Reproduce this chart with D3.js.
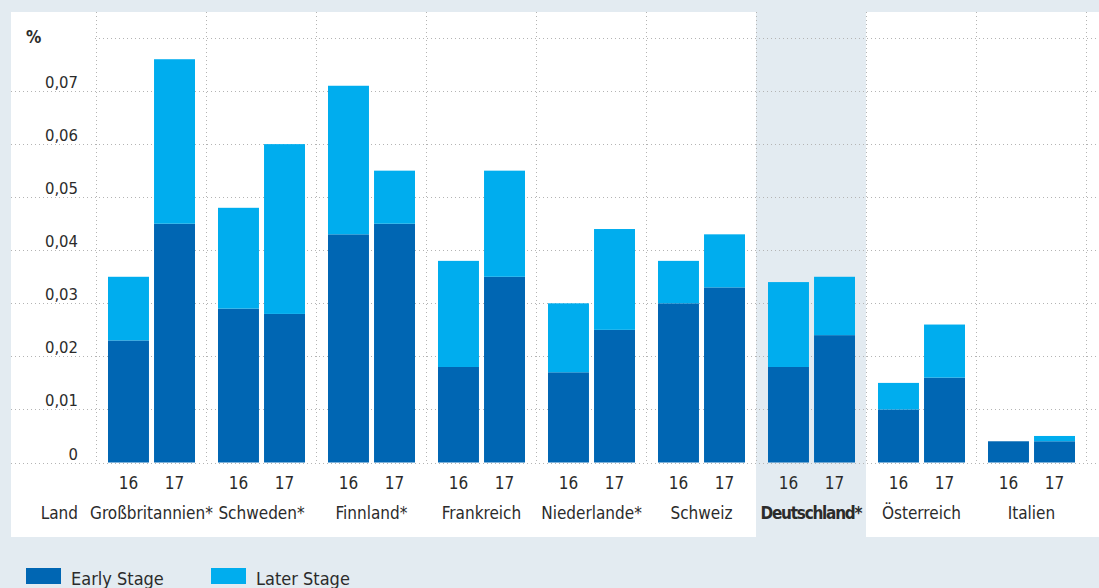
<!DOCTYPE html>
<html>
<head>
<meta charset="utf-8">
<script src="https://cdn.jsdelivr.net/npm/d3@7/dist/d3.min.js"></script>
<style>
  body { margin: 0; background: #e3ebf1; }
  svg text { font-family: "DejaVu Sans Condensed", "Liberation Sans Narrow", "Roboto", sans-serif; fill: #2b2b2b; }
</style>
</head>
<body>
<div id="chart"></div>
<script>
const countries = ['Großbritannien*', 'Schweden*', 'Finnland*', 'Frankreich', 'Niederlande*', 'Schweiz', 'Deutschland*', 'Österreich', 'Italien'];
const years = ['16', '17'];
const early16 = [0.023, 0.029, 0.043, 0.018, 0.017, 0.030, 0.018, 0.010, 0.004];
const later16 = [0.012, 0.019, 0.028, 0.020, 0.013, 0.008, 0.016, 0.005, 0.000];
const early17 = [0.045, 0.028, 0.045, 0.035, 0.025, 0.033, 0.024, 0.016, 0.004];
const later17 = [0.031, 0.032, 0.010, 0.020, 0.019, 0.010, 0.011, 0.010, 0.001];
const yTicks = [0, 0.01, 0.02, 0.03, 0.04, 0.05, 0.06, 0.07];
const highlight = 'Deutschland*';

const w = 1099, h = 588;
const colors = { early: '#0066b3', later: '#00adee' };

// rows for stacking
const rows = [];
countries.forEach((c, i) => {
  rows.push({ country: c, year: '16', early: early16[i], later: later16[i] });
  rows.push({ country: c, year: '17', early: early17[i], later: later17[i] });
});

const svg = d3.select('#chart').append('svg')
  .attr('width', w)
  .attr('height', h);

// white panel
svg.append('rect')
  .attr('x', 11).attr('y', 12)
  .attr('width', w - 11).attr('height', 525)
  .attr('fill', '#fff');

const x0 = d3.scaleBand().domain(countries).range([96.5, 1086.5]);
const x1 = d3.scaleBand().domain(years).range([11.5, 98.5]).paddingInner(0.11);
const y = d3.scaleLinear().domain([0, 0.08]).range([462.5, 38]);

// highlighted column
svg.append('rect')
  .attr('x', x0(highlight) - 0.5).attr('y', 12)
  .attr('width', x0.bandwidth()).attr('height', 525)
  .attr('fill', '#e3ebf1');

const grid = svg.append('g').attr('stroke', '#b4b4b4').attr('stroke-dasharray', '1,3').attr('stroke-width', 1);

// horizontal gridlines
grid.selectAll('line.h')
  .data(yTicks)
  .enter().append('line')
  .attr('x1', 11).attr('x2', w)
  .attr('y1', d => Math.round(y(d)) + 0.5)
  .attr('y2', d => Math.round(y(d)) + 0.5);
grid.append('line')
  .attr('x1', 95).attr('x2', w)
  .attr('y1', Math.round(y(0.08)) + 0.5).attr('y2', Math.round(y(0.08)) + 0.5);

// vertical gridlines
const vx = countries.map(c => x0(c)).concat([x0.range()[1]]);
grid.selectAll('line.v')
  .data(vx)
  .enter().append('line')
  .attr('x1', d => Math.round(d - 1) + 0.5).attr('x2', d => Math.round(d - 1) + 0.5)
  .attr('y1', 12).attr('y2', y(0));

// y labels
svg.append('g').selectAll('text')
  .data(yTicks)
  .enter().append('text')
  .attr('x', 78)
  .attr('y', d => y(d) - 3)
  .attr('text-anchor', 'end')
  .attr('font-size', 16.5)
  .text(d => d === 0 ? '0' : d3.format('.2f')(d).replace('.', ','));

svg.append('text')
  .attr('x', 26).attr('y', 43)
  .attr('font-size', 17)
  .attr('font-weight', 'bold')
  .text('%');

// bars
const series = d3.stack().keys(['early', 'later'])(rows);

svg.append('g').selectAll('g')
  .data(series)
  .enter().append('g')
  .attr('fill', d => colors[d.key])
  .selectAll('rect')
  .data(d => d)
  .enter().append('rect')
  .attr('x', d => x0(d.data.country) + x1(d.data.year))
  .attr('width', x1.bandwidth())
  .attr('y', d => y(d[1]))
  .attr('height', d => y(d[0]) - y(d[1]));

// year labels
svg.append('g').selectAll('text')
  .data(rows)
  .enter().append('text')
  .attr('x', d => x0(d.country) + x1(d.year) + x1.bandwidth() / 2)
  .attr('y', 489)
  .attr('text-anchor', 'middle')
  .attr('font-size', 17)
  .text(d => d.year);

// country labels
svg.append('g').selectAll('text')
  .data(countries)
  .enter().append('text')
  .attr('x', d => x0(d) + x0.bandwidth() / 2)
  .attr('y', 519)
  .attr('text-anchor', 'middle')
  .attr('font-size', 17)
  .attr('font-weight', d => d === highlight ? 'bold' : 'normal')
  .attr('textLength', d => d === highlight ? 102 : null)
  .text(d => d);

svg.append('text')
  .attr('x', 78).attr('y', 519)
  .attr('text-anchor', 'end')
  .attr('font-size', 17)
  .text('Land');

// legend
const legendItems = [['Early Stage', colors.early, 26], ['Later Stage', colors.later, 211]];
const lg = svg.append('g');
legendItems.forEach(item => {
  lg.append('rect')
    .attr('x', item[2]).attr('y', 568)
    .attr('width', 35).attr('height', 16)
    .attr('fill', item[1]);
  lg.append('text')
    .attr('x', item[2] + 45).attr('y', 585)
    .attr('font-size', 18)
    .text(item[0]);
});
</script>
</body>
</html>
